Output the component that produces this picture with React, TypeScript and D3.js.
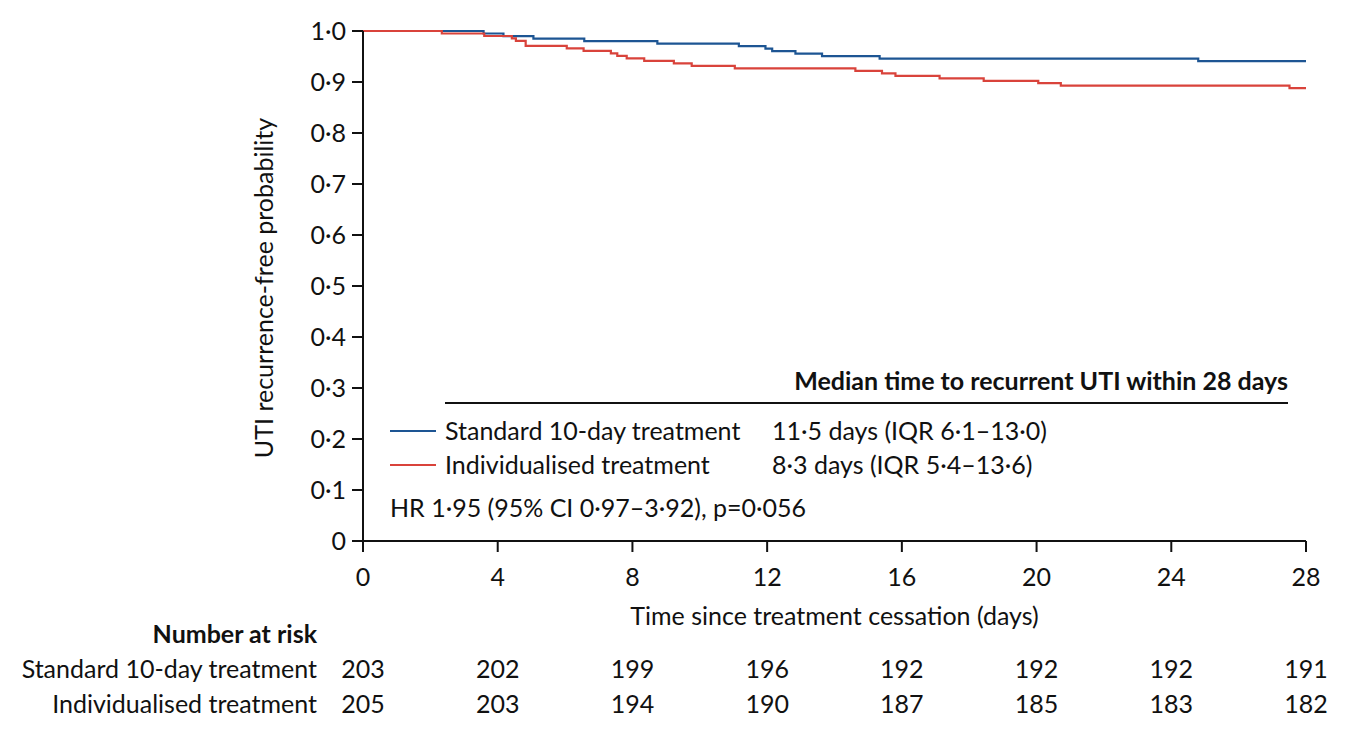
import * as d3 from 'd3';

// axis ticks
const xTicks = [0, 4, 8, 12, 16, 20, 24, 28];
const yTicks = [0, 0.1, 0.2, 0.3, 0.4, 0.5, 0.6, 0.7, 0.8, 0.9, 1.0];
const yTickLabels = ['0', '0·1', '0·2', '0·3', '0·4', '0·5', '0·6', '0·7', '0·8', '0·9', '1·0'];

// Kaplan-Meier steps (time in days, survival)
const standardTimes = [0, 3.58, 4.17, 5.06, 6.57, 8.74, 11.16, 11.95, 12.15, 12.84, 13.63, 15.34, 24.8, 28];
const standardSurv = [1, 0.9951, 0.9901, 0.9852, 0.9803, 0.9754, 0.9704, 0.9655, 0.9606, 0.9557, 0.9507, 0.9458, 0.9409, 0.9409];

const individualisedTimes = [0, 2.34, 3.6, 4.42, 4.54, 4.83, 6.05, 6.55, 7.36, 7.55, 7.83, 8.35, 9.23, 9.76, 11.04, 14.62, 15.41, 15.81, 17.12, 18.43, 20.05, 20.72, 27.51, 28];
const individualisedSurv = [1, 0.9951, 0.9902, 0.9854, 0.9805, 0.9707, 0.9659, 0.961, 0.9561, 0.9512, 0.9463, 0.9415, 0.9366, 0.9317, 0.9268, 0.922, 0.9171, 0.9122, 0.9073, 0.9024, 0.8976, 0.8927, 0.8878, 0.8878];

// number at risk
const groups = ['Standard 10-day treatment', 'Individualised treatment'];
const medians = ['11·5 days (IQR 6·1–13·0)', '8·3 days (IQR 5·4–13·6)'];
const riskStandard = [203, 202, 199, 196, 192, 192, 192, 191];
const riskIndividualised = [205, 203, 194, 190, 187, 185, 183, 182];

const BLUE = '#1d5593';
const RED = '#d9433b';
const FONT = 'Lato, "Liberation Sans", sans-serif';

export default function App() {
  const x = d3.scaleLinear().domain([0, 28]).range([363, 1306]);
  const y = d3.scaleLinear().domain([0, 1]).range([541, 31]);

  const line = d3.line<[number, number]>()
    .x(d => x(d[0]))
    .y(d => y(d[1]))
    .curve(d3.curveStepAfter);

  const stdPts = standardTimes.map((t, i) => [t, standardSurv[i]] as [number, number]);
  const indPts = individualisedTimes.map((t, i) => [t, individualisedSurv[i]] as [number, number]);

  const fs = 25;

  return (
    <svg width={1346} height={732} style={{ position: 'absolute', left: 0, top: 0 }} fontFamily={FONT}>
      <rect width={1346} height={732} fill="#fff" />

      {/* curves */}
      <path d={line(stdPts) ?? ''} fill="none" stroke={BLUE} strokeWidth={2.2} />
      <path d={line(indPts) ?? ''} fill="none" stroke={RED} strokeWidth={2.2} />

      {/* y axis */}
      <line x1={x(0)} x2={x(0)} y1={y(1)} y2={y(0)} stroke="#111" strokeWidth={2} />
      {yTicks.map((t, i) => (
        <g key={t}>
          <line x1={x(0) - 11} x2={x(0)} y1={y(t)} y2={y(t)} stroke="#111" strokeWidth={2} />
          <text x={x(0) - 17} y={y(t)} dy="0.35em" textAnchor="end" fontSize={fs} fill="#111">{yTickLabels[i]}</text>
        </g>
      ))}
      <text transform={`translate(273,${(y(0) + y(1)) / 2 + 2}) rotate(-90)`} textAnchor="middle" fontSize={fs} fill="#111">
        UTI recurrence-free probability
      </text>

      {/* x axis */}
      <line x1={x(0)} x2={x(28)} y1={y(0)} y2={y(0)} stroke="#111" strokeWidth={2} />
      {xTicks.map(t => (
        <g key={t}>
          <line x1={x(t)} x2={x(t)} y1={y(0)} y2={y(0) + 11} stroke="#111" strokeWidth={2} />
          <text x={x(t)} y={577} dy="0.35em" textAnchor="middle" fontSize={fs} fill="#111">{t}</text>
        </g>
      ))}
      <text x={(x(0) + x(28)) / 2} y={616} dy="0.35em" textAnchor="middle" fontSize={fs} fill="#111">
        Time since treatment cessation (days)
      </text>

      {/* legend */}
      <text x={1288} y={381} dy="0.35em" textAnchor="end" fontSize={fs} fontWeight="bold" fill="#111">
        Median time to recurrent UTI within 28 days
      </text>
      <line x1={445} x2={1288} y1={403} y2={403} stroke="#111" strokeWidth={2} />
      {groups.map((g, i) => (
        <g key={g}>
          <line x1={390} x2={436} y1={431 + i * 34} y2={431 + i * 34} stroke={i === 0 ? BLUE : RED} strokeWidth={2.2} />
          <text x={445} y={431 + i * 34} dy="0.35em" fontSize={fs} fill="#111">{g}</text>
          <text x={772} y={431 + i * 34} dy="0.35em" fontSize={fs} fill="#111">{medians[i]}</text>
        </g>
      ))}
      <text x={390} y={508} dy="0.35em" fontSize={fs} fill="#111">HR 1·95 (95% CI 0·97–3·92), p=0·056</text>

      {/* number at risk */}
      <text x={317} y={634} dy="0.35em" textAnchor="end" fontSize={fs} fontWeight="bold" fill="#111">Number at risk</text>
      {groups.map((g, i) => (
        <text key={g} x={317} y={669 + i * 35} dy="0.35em" textAnchor="end" fontSize={fs} fill="#111">{g}</text>
      ))}
      {[riskStandard, riskIndividualised].map((row, i) =>
        row.map((n, j) => (
          <text key={`${i}-${j}`} x={x(xTicks[j])} y={669 + i * 35} dy="0.35em" textAnchor="middle" fontSize={fs} fill="#111">{n}</text>
        ))
      )}
    </svg>
  );
}
